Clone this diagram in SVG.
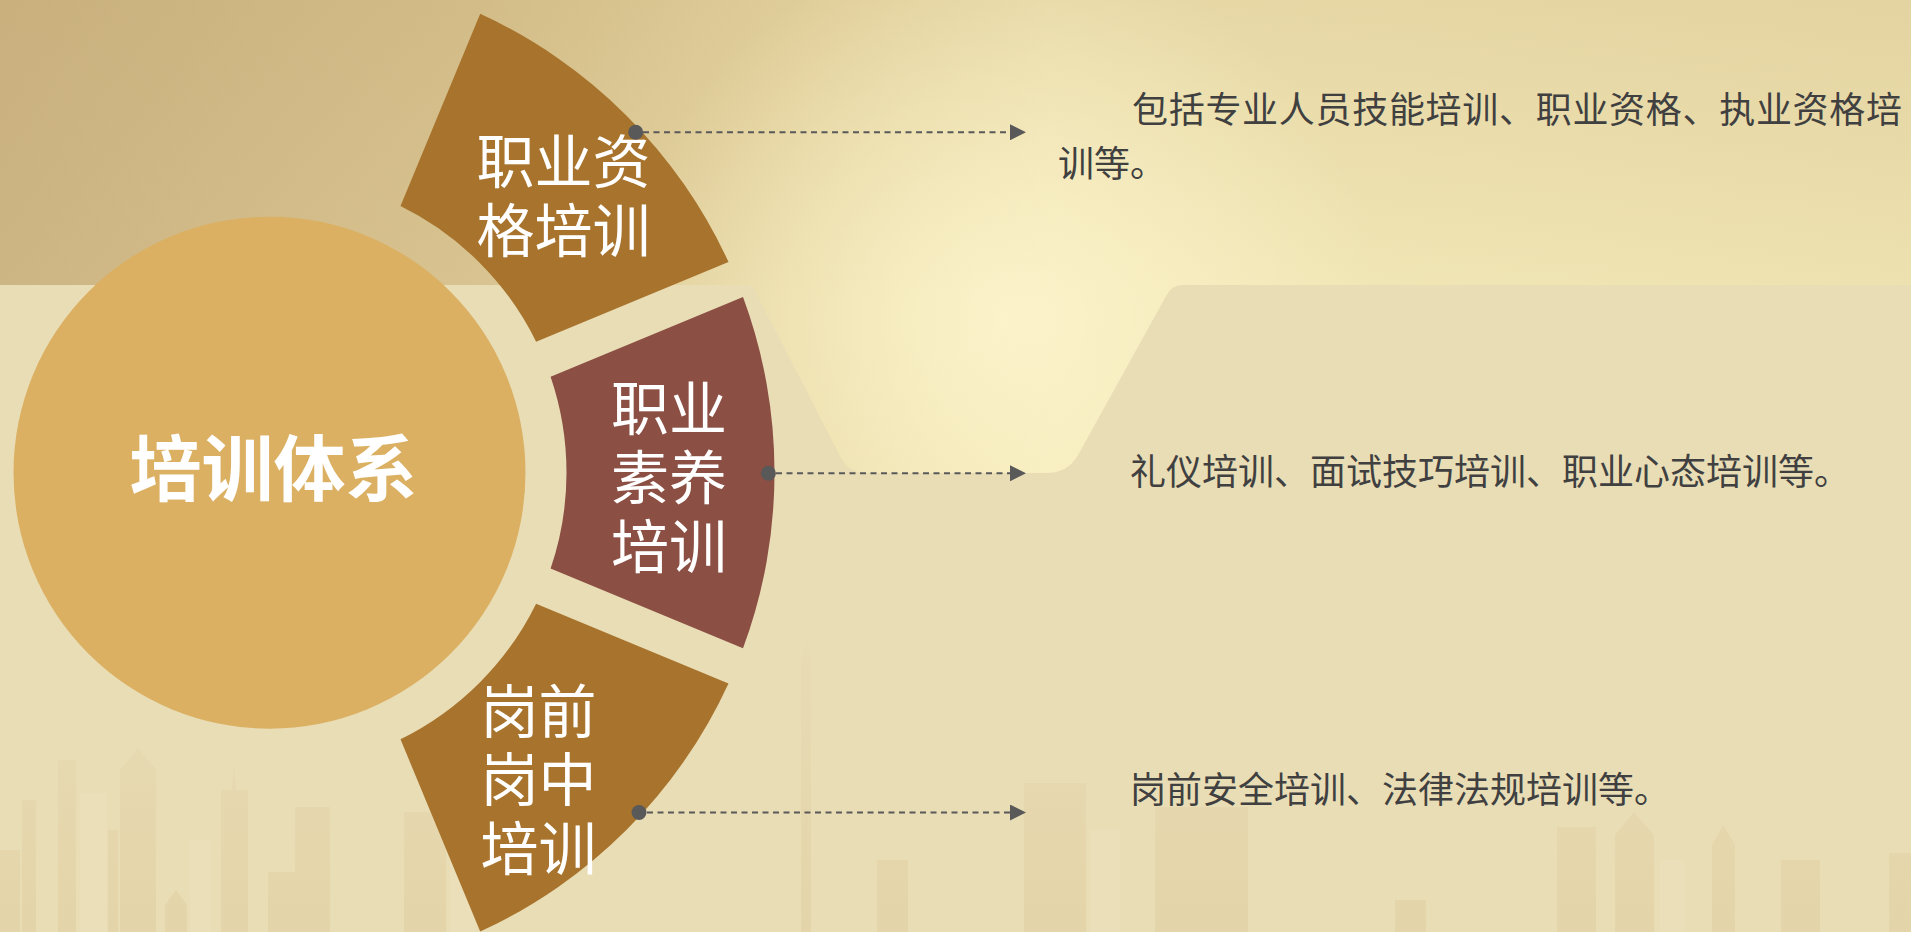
<svg xmlns="http://www.w3.org/2000/svg" width="1911" height="932" viewBox="0 0 1911 932">
  <defs>
    <linearGradient id="bandH" x1="0" y1="0" x2="1911" y2="0" gradientUnits="userSpaceOnUse">
      <stop offset="0" stop-color="#CDB584"/>
      <stop offset="0.25" stop-color="#D9C491"/>
      <stop offset="0.42" stop-color="#E9DAA7"/>
      <stop offset="0.55" stop-color="#F3E8B8"/>
      <stop offset="1" stop-color="#EEE2B1"/>
    </linearGradient>
    <linearGradient id="bandV" x1="0" y1="0" x2="0" y2="300" gradientUnits="userSpaceOnUse">
      <stop offset="0" stop-color="#B89A60" stop-opacity="0.2"/>
      <stop offset="1" stop-color="#B89A60" stop-opacity="0"/>
    </linearGradient>
    <radialGradient id="glow" cx="1000" cy="320" r="380" gradientUnits="userSpaceOnUse">
      <stop offset="0" stop-color="#FFF8D2" stop-opacity="0.7"/>
      <stop offset="1" stop-color="#FFF8D2" stop-opacity="0"/>
    </radialGradient>
    <linearGradient id="city" x1="0" y1="620" x2="0" y2="932" gradientUnits="userSpaceOnUse">
      <stop offset="0" stop-color="#D8BF8C" stop-opacity="0.02"/>
      <stop offset="0.45" stop-color="#D8BF8C" stop-opacity="0.16"/>
      <stop offset="1" stop-color="#D8BF8C" stop-opacity="0.3"/>
    </linearGradient>
    <marker id="arrow" viewBox="0 0 16 16" refX="0" refY="8" markerWidth="16" markerHeight="16" markerUnits="userSpaceOnUse" orient="auto">
      <path d="M0,0 L16,8 L0,16 Z" fill="#595959"/>
    </marker>
    <style>
      .seg-gold { fill: #A8742D; }
      .seg-red { fill: #8B4F43; }
      .label { font-family: "Noto Sans CJK SC", "Noto Sans", sans-serif; font-size: 58px; fill: #FFFFFF; text-anchor: middle; }
      .title { font-family: "Noto Sans CJK SC", "Noto Sans", sans-serif; font-size: 72px; font-weight: 700; fill: #FFFFFF; text-anchor: middle; }
      .desc { font-family: "Noto Sans CJK SC", "Noto Sans", sans-serif; font-size: 36px; fill: #404040; }
      .conn { stroke: #595959; stroke-width: 2; stroke-dasharray: 6 4.5; fill: none; }
      .dot { fill: #595959; }
      .bld { fill: url(#city); }
      .bldl { fill: #F3EACB; fill-opacity: 0.18; }
    </style>
  </defs>

  <!-- background -->
  <rect x="0" y="0" width="1911" height="932" fill="#E9DDB6"/>
  <g id="skyline">
    <rect class="bld" x="0" y="850" width="20" height="82"/>
    <rect class="bld" x="22" y="800" width="14" height="132"/>
    <rect class="bld" x="58" y="760" width="18" height="172"/>
    <rect class="bldl" x="80" y="793" width="27" height="139"/>
    <rect class="bld" x="108" y="830" width="10" height="102"/>
    <path class="bld" d="M120 770 L138 748 L156 770 V932 H120 Z"/>
    <path class="bld" d="M165 905 L176 890 L187 905 V932 H165 Z"/>
    <rect class="bldl" x="190" y="840" width="20" height="92"/>
    <path class="bld" d="M221 790 L232 790 L234 767 L236 790 L248 790 V932 H221 Z"/>
    <rect class="bld" x="268" y="872" width="27" height="60"/>
    <rect class="bld" x="295" y="807" width="35" height="125"/>
    <rect class="bld" x="404" y="812" width="42" height="120"/>
    <rect class="bldl" x="450" y="860" width="25" height="72"/>
    <path class="bld" d="M801 932 V660 L806 640 L811 660 V932 Z"/>
    <rect class="bld" x="877" y="860" width="31" height="72"/>
    <rect class="bld" x="1024" y="783" width="62" height="149"/>
    <rect class="bldl" x="1090" y="830" width="30" height="102"/>
    <rect class="bld" x="1155" y="807" width="93" height="125"/>
    <rect class="bld" x="1395" y="900" width="31" height="32"/>
    <rect class="bld" x="1557" y="827" width="39" height="105"/>
    <path class="bld" d="M1615 835 L1634 812 L1654 835 V932 H1615 Z"/>
    <rect class="bldl" x="1660" y="860" width="25" height="72"/>
    <path class="bld" d="M1712 845 L1723 825 L1735 845 V932 H1712 Z"/>
    <rect class="bld" x="1781" y="860" width="39" height="72"/>
    <rect class="bld" x="1889" y="853" width="22" height="79"/>
  </g>
  <g id="band">
    <path d="M0 0 H1911 V285 H1182 Q1172 285 1166 296 L1078 455 Q1068 473 1046 473 H866 Q848 473 840 456 L752 285 H0 Z" fill="url(#bandH)"/>
    <path d="M0 0 H1911 V285 H1182 Q1172 285 1166 296 L1078 455 Q1068 473 1046 473 H866 Q848 473 840 456 L752 285 H0 Z" fill="url(#bandV)"/>
    <path d="M0 0 H1911 V285 H1182 Q1172 285 1166 296 L1078 455 Q1068 473 1046 473 H866 Q848 473 840 456 L752 285 H0 Z" fill="url(#glow)"/>
  </g>

  <!-- center node -->
  <g id="node-center">
    <circle cx="269.5" cy="472.7" r="256" fill="#DBB062"/>
    <text class="title" x="273.5" y="495">培训体系</text>
  </g>

  <!-- segment nodes -->
  <g id="node-qualification">
    <path class="seg-gold" d="M480.2 13.8 A505 505 0 0 1 728.5 262.0 L536.1 341.7 A297 297 0 0 0 400.5 206.1 Z"/>
    <text class="label" x="563.5" y="182.5">职业资</text>
    <text class="label" x="563.5" y="251.5">格培训</text>
  </g>
  <g id="node-quality">
    <path class="seg-red" d="M743.0 297.1 A505 505 0 0 1 743.0 648.3 L550.6 568.6 A297 297 0 0 0 550.6 376.8 Z"/>
    <text class="label" x="669" y="430">职业</text>
    <text class="label" x="669" y="499">素养</text>
    <text class="label" x="669" y="567.5">培训</text>
  </g>
  <g id="node-onjob">
    <path class="seg-gold" d="M728.5 683.4 A505 505 0 0 1 480.2 931.6 L400.5 739.3 A297 297 0 0 0 536.1 603.7 Z"/>
    <text class="label" x="538.5" y="732.5">岗前</text>
    <text class="label" x="538.5" y="801">岗中</text>
    <text class="label" x="538.5" y="869.5">培训</text>
  </g>

  <!-- connectors -->
  <g id="connectors">
    <line class="conn" x1="643" y1="132.3" x2="1010" y2="132.3" marker-end="url(#arrow)"/>
    <circle class="dot" cx="635.7" cy="132.3" r="7.5"/>
    <line class="conn" x1="776" y1="473.3" x2="1010" y2="473.3" marker-end="url(#arrow)"/>
    <circle class="dot" cx="768.4" cy="473.3" r="7.5"/>
    <line class="conn" x1="647" y1="812.5" x2="1010" y2="812.5" marker-end="url(#arrow)"/>
    <circle class="dot" cx="639" cy="812.5" r="7.5"/>
  </g>

  <!-- descriptions -->
  <g id="desc-qualification">
    <text class="desc" x="1132" y="123" textLength="770" lengthAdjust="spacing">包括专业人员技能培训、职业资格、执业资格培</text>
    <text class="desc" x="1058" y="177">训等。</text>
  </g>
  <g id="desc-quality">
    <text class="desc" x="1130" y="485">礼仪培训、面试技巧培训、职业心态培训等。</text>
  </g>
  <g id="desc-onjob">
    <text class="desc" x="1130" y="803">岗前安全培训、法律法规培训等。</text>
  </g>
</svg>
